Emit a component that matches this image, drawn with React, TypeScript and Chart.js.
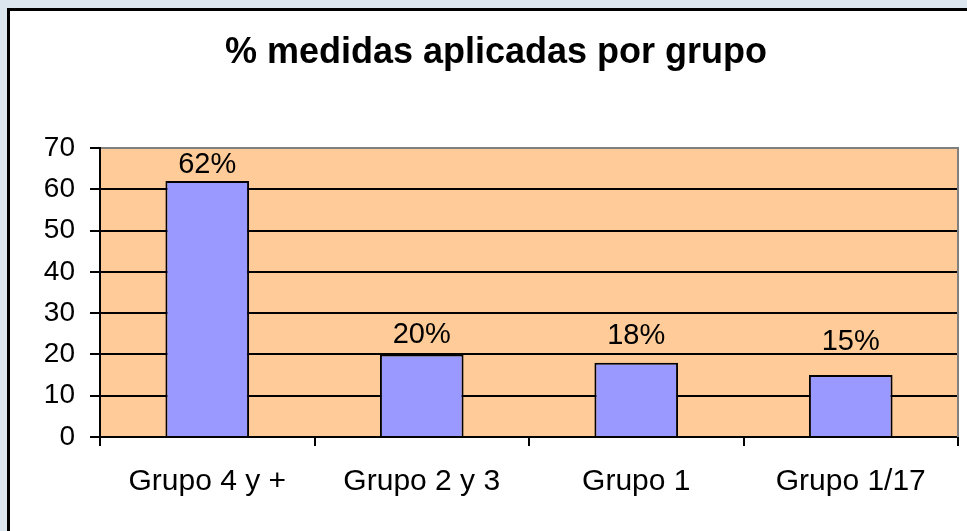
import { useEffect, useRef } from "react";
import { Chart, registerables } from "chart.js";

Chart.register(...registerables);

const title = "% medidas aplicadas por grupo";
const categories = ["Grupo 4 y +", "Grupo 2 y 3", "Grupo 1", "Grupo 1/17"];
const values = [62, 20, 18, 15];
const valueLabels = ["62%", "20%", "18%", "15%"];
const yMin = 0;
const yMax = 70;
const yStep = 10;

const FONT = "'Liberation Sans', Arial, sans-serif";

export default function App() {
  const ref = useRef<HTMLCanvasElement | null>(null);

  useEffect(() => {
    const canvas = ref.current;
    if (!canvas) return;

    // gap (px) between each bar top and its data label, as placed in the original
    const labelGaps = [16, 19, 27, 33];

    const decor = {
      id: "decor",
      beforeDraw(chart: any) {
        const { ctx, chartArea } = chart;
        ctx.save();
        ctx.fillStyle = "#dce6ef";
        ctx.fillRect(0, 0, chart.width, chart.height);
        ctx.fillStyle = "#ffffff";
        ctx.fillRect(8, 8, chart.width + 20, chart.height + 20);
        ctx.strokeStyle = "#000000";
        ctx.lineWidth = 3;
        ctx.strokeRect(8.5, 9.5, chart.width + 20, chart.height + 20);
        ctx.fillStyle = "#ffcc99";
        ctx.fillRect(
          chartArea.left,
          chartArea.top,
          chartArea.right - chartArea.left,
          chartArea.bottom - chartArea.top
        );
        ctx.fillStyle = "#000";
        ctx.font = `bold 36px ${FONT}`;
        ctx.textAlign = "center";
        ctx.textBaseline = "alphabetic";
        ctx.fillText(title, 496, 63);
        ctx.restore();
      },
      afterDraw(chart: any) {
        const { ctx, chartArea } = chart;
        ctx.save();
        ctx.strokeStyle = "#808080";
        ctx.lineWidth = 2;
        ctx.beginPath();
        ctx.moveTo(chartArea.right, chartArea.top - 1);
        ctx.lineTo(chartArea.right, chartArea.bottom);
        ctx.stroke();
        ctx.restore();
      },
      afterDatasetsDraw(chart: any) {
        const { ctx } = chart;
        const meta = chart.getDatasetMeta(0);
        ctx.save();
        ctx.fillStyle = "#000";
        ctx.font = `29px ${FONT}`;
        ctx.textAlign = "center";
        ctx.textBaseline = "middle";
        meta.data.forEach((bar: any, i: number) => {
          ctx.fillText(valueLabels[i], bar.x, bar.y - labelGaps[i]);
        });
        ctx.restore();
      },
    };

    const chart = new Chart(canvas, {
      type: "bar",
      data: {
        labels: categories,
        datasets: [
          {
            data: values,
            backgroundColor: "#9999ff",
            borderColor: "#000000",
            borderWidth: 2,
            barPercentage: 0.39,
            categoryPercentage: 1,
          },
        ],
      },
      options: {
        animation: false,
        responsive: false,
        devicePixelRatio: 1,
        layout: { padding: { left: 0, right: 9, top: 148, bottom: 0 } },
        plugins: {
          legend: { display: false },
          title: { display: false },
          tooltip: { enabled: false },
        },
        scales: {
          x: {
            afterFit(scale: any) {
              scale.height = 94;
            },
            grid: {
              display: true,
              drawOnChartArea: false,
              drawTicks: true,
              tickLength: 9,
              offset: true,
              color: "#000",
              lineWidth: 2,
            },
            border: { display: true, color: "#000", width: 2 },
            ticks: {
              color: "#000",
              font: { family: FONT, size: 30 },
              padding: 18,
              maxRotation: 0,
              autoSkip: false,
            },
          },
          y: {
            min: yMin,
            max: yMax,
            afterFit(scale: any) {
              scale.width = 100;
            },
            grid: {
              color: (c: any) => (c.tick && c.tick.value === yMax ? "#808080" : "#000"),
              tickColor: "#000",
              lineWidth: 2,
              tickLength: 10,
            },
            border: { display: true, color: "#000", width: 2 },
            ticks: {
              stepSize: yStep,
              color: "#000",
              font: { family: FONT, size: 28 },
              padding: 15,
            },
          },
        },
      },
      plugins: [decor],
    });

    return () => chart.destroy();
  }, []);

  return (
    <div style={{ position: "fixed", left: 0, top: 0, width: 967, height: 531 }}>
      <canvas ref={ref} width={967} height={531} style={{ display: "block", width: 967, height: 531 }} />
    </div>
  );
}
